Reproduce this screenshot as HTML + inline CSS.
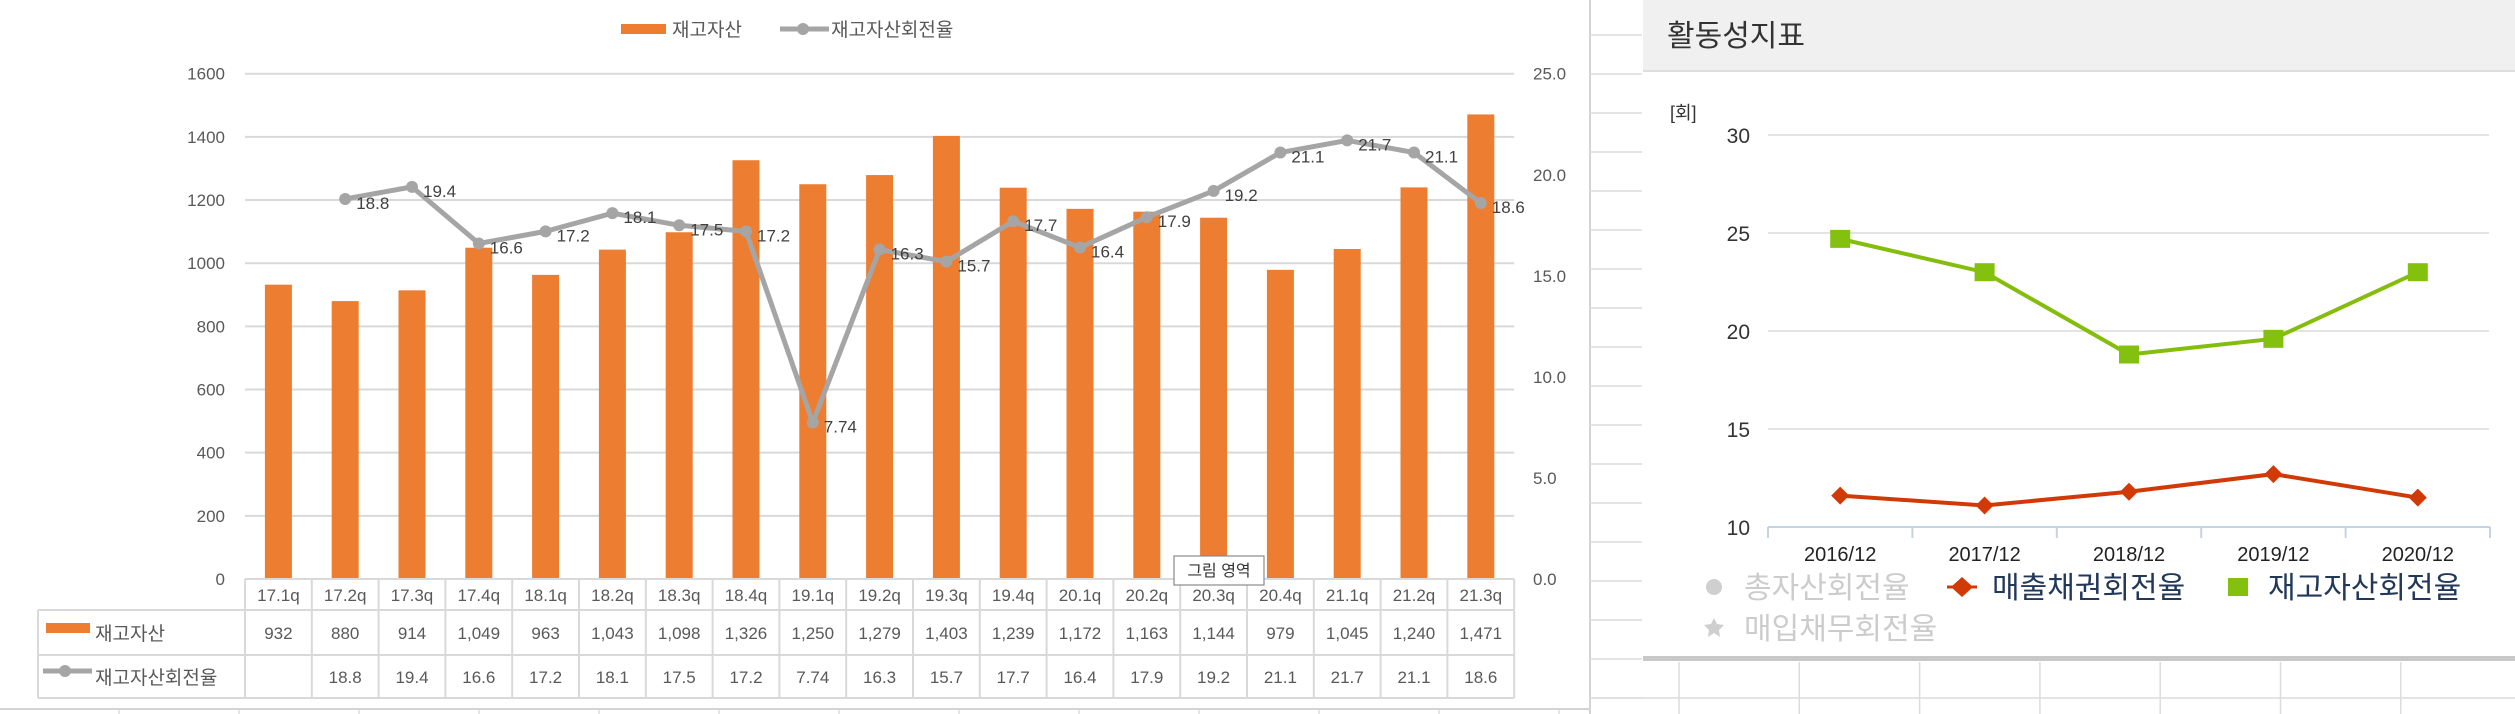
<!DOCTYPE html>
<html><head><meta charset="utf-8"><style>
html,body{margin:0;padding:0;background:#fff;}
svg{display:block;font-family:"Liberation Sans","Noto Sans CJK KR",sans-serif;}
</style></head><body>
<svg id="svg" width="2515" height="714" viewBox="0 0 2515 714" xmlns="http://www.w3.org/2000/svg">
<g id="excelGrid"></g>
<g id="left"></g>
<g id="right"></g>
</svg>
<script>
const categories = ["17.1q","17.2q","17.3q","17.4q","18.1q","18.2q","18.3q","18.4q","19.1q","19.2q","19.3q","19.4q","20.1q","20.2q","20.3q","20.4q","21.1q","21.2q","21.3q"];
const inventory = [932,880,914,1049,963,1043,1098,1326,1250,1279,1403,1239,1172,1163,1144,979,1045,1240,1471];
const inventoryLabels = ["932","880","914","1,049","963","1,043","1,098","1,326","1,250","1,279","1,403","1,239","1,172","1,163","1,144","979","1,045","1,240","1,471"];
const turnover = [null,18.8,19.4,16.6,17.2,18.1,17.5,17.2,7.74,16.3,15.7,17.7,16.4,17.9,19.2,21.1,21.7,21.1,18.6];
const turnoverLabels = ["","18.8","19.4","16.6","17.2","18.1","17.5","17.2","7.74","16.3","15.7","17.7","16.4","17.9","19.2","21.1","21.7","21.1","18.6"];
const leftTicks = [0,200,400,600,800,1000,1200,1400,1600];
const rightTicks = [0,5,10,15,20,25];
const rightTickLabels = ["0.0","5.0","10.0","15.0","20.0","25.0"];

const years = ["2016/12","2017/12","2018/12","2019/12","2020/12"];
const invTurn = [24.7,23.0,18.8,19.6,23.0];
const recvTurn = [11.6,11.1,11.8,12.7,11.5];
const panelTicks = [10,15,20,25,30];

const NS="http://www.w3.org/2000/svg";
function mk(parent,tag,attrs,text){const e=document.createElementNS(NS,tag);for(const k in attrs)e.setAttribute(k,attrs[k]);if(text!==undefined)e.textContent=text;parent.appendChild(e);return e;}

// sheet grid
const G=document.getElementById('excelGrid');
let e;
e=mk(G,'line',{x1:1590,y1:0,x2:1590,y2:714,stroke:'#d4d4d4','stroke-width':2});


for(let y=35;y<714;y+=39){e=mk(G,'line',{x1:1590,y1:y,x2:1642,y2:y,stroke:'#dcdcdc','stroke-width':1.5});

}
for(let x=119;x<1590;x+=120){e=mk(G,'line',{x1:x,y1:709,x2:x,y2:714,stroke:'#dcdcdc','stroke-width':1.5});

}
for(let x=1679;x<2515;x+=120.3){e=mk(G,'line',{x1:x,y1:662,x2:x,y2:714,stroke:'#dcdcdc','stroke-width':1.5});

}
e=mk(G,'line',{x1:1590,y1:698,x2:2515,y2:698,stroke:'#dcdcdc','stroke-width':1.5});



// LEFT CHART
const L=document.getElementById('left');
e=mk(L,'line',{x1:0,y1:709,x2:1589,y2:709,stroke:'#d4d4d4','stroke-width':2});


const x0=245,cw=66.8,base=579,ph=505.3;
const xC=i=>x0+cw*(i+0.5);
const yL=v=>base-v*ph/1600;
const yR=v=>base-v*ph/25;
leftTicks.forEach(t=>{
  if(t>0){e=mk(L,'line',{x1:x0,y1:yL(t),x2:x0+cw*categories.length,y2:yL(t),stroke:'#d9d9d9','stroke-width':2});
  
  }
  e=mk(L,'text',{x:225,y:yL(t)+6,'text-anchor':'end','font-size':17,fill:'#595959'},String(t));
  
  
});
rightTicks.forEach((t,i)=>{
  e=mk(L,'text',{x:1533,y:yR(t)+6,'font-size':17,fill:'#595959'},rightTickLabels[i]);
  
  
});
inventory.forEach((v,i)=>{
  e=mk(L,'rect',{x:xC(i)-13.5,y:yL(v),width:27,height:base-yL(v),fill:'#ED7D31'});
  
  
});
let pts=[];turnover.forEach((v,i)=>{if(v!==null)pts.push(xC(i)+','+yR(v));});
e=mk(L,'polyline',{points:pts.join(' '),fill:'none',stroke:'#A5A5A5','stroke-width':5,'stroke-linejoin':'round'});


turnover.forEach((v,i)=>{if(v===null)return;
  e=mk(L,'circle',{cx:xC(i),cy:yR(v),r:6,fill:'#A5A5A5'});
  
  
  e=mk(L,'text',{x:xC(i)+11,y:yR(v)+10,'font-size':17,fill:'#404040'},turnoverLabels[i]);
  
  
});
// legend
e=mk(L,'rect',{x:621,y:24,width:45,height:10,fill:'#ED7D31'});


e=mk(L,'text',{x:672,y:36,'font-size':19,fill:'#595959'},'재고자산');


e=mk(L,'line',{x1:780,y1:29,x2:829,y2:29,stroke:'#A5A5A5','stroke-width':5});


e=mk(L,'circle',{cx:803,cy:29,r:6,fill:'#A5A5A5'});


e=mk(L,'text',{x:831,y:36,'font-size':19,fill:'#595959'},'재고자산회전율');


// data table
const xe=x0+cw*categories.length;
const tl={stroke:'#d9d9d9','stroke-width':2};
[[x0,579,xe,579],[38,610,xe,610],[38,655,xe,655],[38,698,xe,698],[38,610,38,698]].forEach(a=>{
  e=mk(L,'line',Object.assign({x1:a[0],y1:a[1],x2:a[2],y2:a[3]},tl));
  
  
});
for(let i=0;i<=categories.length;i++){e=mk(L,'line',Object.assign({x1:x0+cw*i,y1:579,x2:x0+cw*i,y2:698},tl));

}
categories.forEach((c,i)=>{
  e=mk(L,'text',{x:xC(i),y:601,'text-anchor':'middle','font-size':17,fill:'#595959'},c);
  
  
  e=mk(L,'text',{x:xC(i),y:639,'text-anchor':'middle','font-size':17,fill:'#595959'},inventoryLabels[i]);
  
  
  e=mk(L,'text',{x:xC(i),y:683,'text-anchor':'middle','font-size':17,fill:'#595959'},turnoverLabels[i]);
  
  
});
e=mk(L,'rect',{x:46,y:623,width:44,height:10,fill:'#ED7D31'});


e=mk(L,'text',{x:95,y:640,'font-size':19,fill:'#595959'},'재고자산');


e=mk(L,'line',{x1:43,y1:671,x2:92,y2:671,stroke:'#A5A5A5','stroke-width':5});


e=mk(L,'circle',{cx:65,cy:671,r:6,fill:'#A5A5A5'});


e=mk(L,'text',{x:95,y:684,'font-size':19,fill:'#595959'},'재고자산회전율');


// tooltip
e=mk(L,'rect',{x:1174,y:556,width:90,height:29,fill:'#fff',stroke:'#8a8a8a','stroke-width':1.2});


e=mk(L,'text',{x:1219,y:576,'text-anchor':'middle','font-size':16,fill:'#333'},'그림 영역');



// RIGHT PANEL
const R=document.getElementById('right');
e=mk(R,'rect',{x:1643,y:0,width:872,height:70,fill:'#f0f0f0'});


e=mk(R,'line',{x1:1643,y1:71,x2:2515,y2:71,stroke:'#dedede','stroke-width':2});


e=mk(R,'rect',{x:1643,y:72,width:872,height:584,fill:'#fff'});


e=mk(R,'text',{x:1667,y:46,'font-size':30,fill:'#333'},'활동성지표');


e=mk(R,'rect',{x:1643,y:656,width:872,height:5,fill:'#c8c8c8'});


e=mk(R,'text',{x:1670,y:119,'font-size':18,fill:'#333'},'[회]');


const px0=1768,pw=722,py=v=>527-(v-10)*(392/20);
const pxC=i=>px0+pw/5*(i+0.5);
panelTicks.forEach(t=>{
  if(t>10){e=mk(R,'line',{x1:px0,y1:py(t),x2:2489,y2:py(t),stroke:'#e3e3e3','stroke-width':2});
  
  }
  e=mk(R,'text',{x:1750,y:py(t)+8,'text-anchor':'end','font-size':21,fill:'#333'},String(t));
  
  
});
e=mk(R,'line',{x1:px0,y1:527,x2:px0+pw,y2:527,stroke:'#c5d3e2','stroke-width':2});


for(let i=0;i<=5;i++){e=mk(R,'line',{x1:px0+pw/5*i,y1:527,x2:px0+pw/5*i,y2:538,stroke:'#c5d3e2','stroke-width':2});

}
years.forEach((y,i)=>{
  e=mk(R,'text',{x:pxC(i),y:561,'text-anchor':'middle','font-size':20,fill:'#222'},y);
  
  
});
e=mk(R,'polyline',{points:invTurn.map((v,i)=>pxC(i)+','+py(v)).join(' '),fill:'none',stroke:'#84bd0c','stroke-width':4});


invTurn.forEach((v,i)=>{e=mk(R,'rect',{x:pxC(i)-10,y:py(v)-9,width:20,height:18,fill:'#84c00e'});

});
e=mk(R,'polyline',{points:recvTurn.map((v,i)=>pxC(i)+','+py(v)).join(' '),fill:'none',stroke:'#d13a06','stroke-width':4});


recvTurn.forEach((v,i)=>{const cx=pxC(i),cy=py(v);
e=mk(R,'polygon',{points:`${cx},${cy-9} ${cx+9},${cy} ${cx},${cy+9} ${cx-9},${cy}`,fill:'#d13a06'});

});
// legend
e=mk(R,'circle',{cx:1714,cy:587,r:8,fill:'#cfcfcf'});


e=mk(R,'text',{x:1744,y:598,'font-size':30,fill:'#cccccc'},'총자산회전율');


e=mk(R,'polygon',{points:'1962,577 1973,587 1962,597 1951,587',fill:'#d13a06'});


e=mk(R,'line',{x1:1947,y1:587,x2:1977,y2:587,stroke:'#d13a06','stroke-width':3});


e=mk(R,'text',{x:1992,y:598,'font-size':30,fill:'#22385a'},'매출채권회전율');


e=mk(R,'rect',{x:2228,y:578,width:20,height:18,fill:'#84c00e'});


e=mk(R,'text',{x:2268,y:598,'font-size':30,fill:'#22385a'},'재고자산회전율');


e=mk(R,'polygon',{points:'1714,618 1717,624 1724,625 1719,630 1720,637 1714,633 1708,637 1709,630 1704,625 1711,624',fill:'#cfcfcf'});


e=mk(R,'text',{x:1744,y:639,'font-size':30,fill:'#cccccc'},'매입채무회전율');


</script>
</body></html>
